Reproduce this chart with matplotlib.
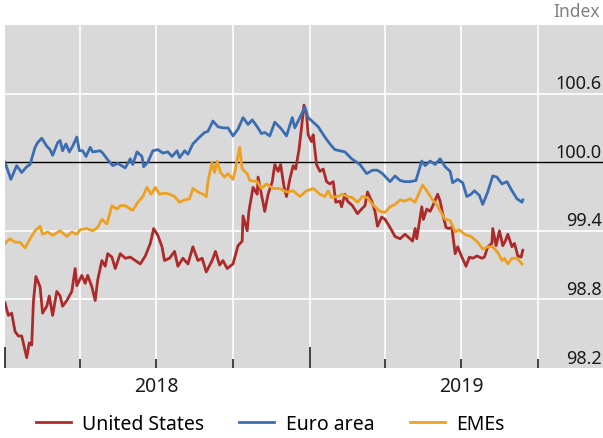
import matplotlib
matplotlib.use("Agg")
import matplotlib.pyplot as plt
import matplotlib.dates as mdates
import pandas as pd

plt.rcParams['font.family'] = ['Noto Sans', 'DejaVu Sans']

start = pd.Timestamp('2018-01-01')

# days since 1 Jan 2018, index values
us_days = [0, 4, 8, 12, 16, 20, 26, 29, 32, 34, 37, 42, 45, 50, 53, 57, 62, 66, 69, 74,
           80, 84, 86, 92, 96, 99, 104, 108, 111, 116, 120, 123, 128, 132, 138, 144, 150,
           156, 162, 168, 174, 178, 183, 188, 191, 197, 203, 207, 213, 219, 225, 231, 236,
           241, 248, 252, 257, 261, 266, 273, 279, 284, 285, 290, 292, 297, 302, 303, 307,
           311, 315, 320, 323, 327, 330, 334, 337, 341, 345, 348, 352, 355, 358, 361, 363,
           367, 369, 373, 377, 381, 385, 389, 393, 396, 401, 403, 407, 410, 416, 422, 427,
           431, 434, 439, 443, 446, 451, 455, 461, 467, 473, 479, 482, 488, 491, 493, 499,
           501, 505, 509, 513, 518, 521, 524, 528, 531, 535, 539, 542, 547, 552, 556, 560,
           565, 571, 574, 578, 583, 584, 588, 592, 596, 599, 602, 607, 610, 614, 618, 620]
us_vals = [98.77, 98.66, 98.68, 98.52, 98.48, 98.48, 98.29, 98.42, 98.40, 98.78, 99.00, 98.91,
           98.68, 98.74, 98.83, 98.66, 98.87, 98.83, 98.74, 98.79, 98.87, 99.07, 98.92, 99.01,
           98.94, 99.01, 98.91, 98.79, 98.97, 99.14, 99.09, 99.20, 99.17, 99.07, 99.20, 99.16,
           99.17, 99.14, 99.11, 99.18, 99.29, 99.42, 99.36, 99.26, 99.14, 99.16, 99.22, 99.09,
           99.16, 99.11, 99.26, 99.14, 99.16, 99.04, 99.14, 99.22, 99.10, 99.14, 99.07, 99.11,
           99.27, 99.31, 99.53, 99.40, 99.57, 99.78, 99.72, 99.87, 99.72, 99.57, 99.72, 99.83,
           99.98, 99.92, 99.98, 99.79, 99.70, 99.85, 99.97, 99.94, 100.11, 100.30, 100.50,
           100.42, 100.24, 100.18, 100.24, 99.98, 99.92, 99.94, 99.83, 99.81, 99.83, 99.65,
           99.66, 99.61, 99.72, 99.66, 99.62, 99.55, 99.59, 99.62, 99.74, 99.66, 99.57, 99.44,
           99.52, 99.50, 99.43, 99.35, 99.33, 99.37, 99.35, 99.31, 99.42, 99.33, 99.61, 99.50,
           99.59, 99.57, 99.63, 99.72, 99.66, 99.55, 99.43, 99.42, 99.43, 99.20, 99.26, 99.17,
           99.09, 99.17, 99.16, 99.18, 99.16, 99.17, 99.26, 99.29, 99.42, 99.27, 99.40, 99.27,
           99.31, 99.37, 99.26, 99.29, 99.18, 99.17, 99.23]

ea_days = [0, 7, 14, 20, 26, 30, 36, 39, 44, 50, 54, 57, 63, 66, 69, 73, 77, 81, 86, 89, 93,
           97, 102, 105, 114, 117, 122, 129, 135, 144, 150, 153, 158, 164, 166, 171, 177, 183,
           189, 195, 200, 206, 209, 215, 219, 225, 233, 239, 243, 249, 255, 261, 267, 273, 279,
           285, 291, 296, 302, 307, 311, 317, 323, 331, 337, 344, 347, 355, 359, 363, 369, 375,
           383, 389, 395, 401, 407, 415, 425, 433, 440, 446, 452, 461, 467, 473, 479, 485, 492,
           499, 503, 509, 515, 521, 527, 533, 536, 542, 548, 553, 558, 562, 568, 572, 578, 584,
           589, 595, 601, 607, 613, 619, 620]
ea_vals = [100.00, 99.85, 99.97, 99.91, 99.96, 99.98, 100.13, 100.17, 100.21, 100.14, 100.11,
           100.06, 100.17, 100.19, 100.10, 100.16, 100.09, 100.14, 100.22, 100.10, 100.10,
           100.05, 100.13, 100.09, 100.10, 100.08, 100.03, 99.97, 99.99, 99.95, 100.03, 99.98,
           100.09, 100.05, 99.96, 100.00, 100.10, 100.11, 100.08, 100.09, 100.05, 100.10,
           100.04, 100.10, 100.07, 100.16, 100.22, 100.26, 100.27, 100.36, 100.31, 100.30,
           100.30, 100.23, 100.29, 100.39, 100.33, 100.37, 100.31, 100.25, 100.26, 100.23,
           100.35, 100.29, 100.23, 100.39, 100.30, 100.42, 100.48, 100.39, 100.35, 100.31,
           100.22, 100.16, 100.11, 100.10, 100.09, 100.03, 99.98, 99.90, 99.93, 99.93, 99.90,
           99.83, 99.88, 99.84, 99.83, 99.83, 99.84, 100.01, 99.97, 100.01, 99.98, 100.03,
           99.96, 99.92, 99.82, 99.85, 99.82, 99.70, 99.72, 99.75, 99.71, 99.63, 99.74, 99.88,
           99.87, 99.81, 99.83, 99.75, 99.68, 99.65, 99.67]

em_days = [0, 6, 12, 18, 24, 30, 36, 42, 45, 51, 57, 66, 74, 80, 86, 90, 98, 105, 111, 116,
           122, 128, 134, 138, 144, 150, 153, 159, 165, 170, 175, 180, 185, 191, 197, 203, 209,
           215, 221, 225, 231, 237, 241, 243, 248, 251, 254, 258, 263, 267, 273, 275, 281, 284,
           290, 293, 302, 307, 313, 321, 329, 337, 345, 353, 361, 369, 377, 383, 387, 391, 398,
           404, 410, 416, 422, 428, 434, 440, 449, 455, 461, 467, 473, 479, 485, 491, 497, 500,
           505, 511, 517, 523, 527, 533, 539, 544, 550, 558, 566, 572, 578, 584, 590, 595, 598,
           602, 607, 613, 619]
em_vals = [99.29, 99.33, 99.30, 99.30, 99.25, 99.33, 99.40, 99.44, 99.37, 99.39, 99.36, 99.40,
           99.35, 99.39, 99.37, 99.41, 99.42, 99.40, 99.43, 99.50, 99.46, 99.62, 99.59, 99.62,
           99.62, 99.59, 99.58, 99.65, 99.70, 99.78, 99.72, 99.78, 99.72, 99.73, 99.72, 99.70,
           99.65, 99.67, 99.68, 99.77, 99.74, 99.72, 99.70, 99.83, 100.00, 99.91, 100.01,
           99.91, 99.87, 99.90, 99.85, 99.91, 100.13, 99.94, 99.90, 99.84, 99.83, 99.77, 99.81,
           99.77, 99.77, 99.74, 99.75, 99.70, 99.75, 99.77, 99.72, 99.70, 99.75, 99.69, 99.70,
           99.72, 99.70, 99.69, 99.65, 99.70, 99.69, 99.63, 99.57, 99.56, 99.61, 99.63, 99.67,
           99.66, 99.68, 99.65, 99.75, 99.80, 99.75, 99.68, 99.63, 99.55, 99.50, 99.49, 99.39,
           99.41, 99.37, 99.35, 99.30, 99.24, 99.26, 99.26, 99.21, 99.14, 99.16, 99.11, 99.16,
           99.16, 99.11]

series = [("United States", us_days, us_vals, "#ad2a2a"),
          ("Euro area", ea_days, ea_vals, "#3b6db3"),
          ("EMEs", em_days, em_vals, "#eea021")]

y_labels = [98.2, 98.8, 99.4, 100.0, 100.6]

fig = plt.figure(figsize=(6.03, 4.39), dpi=100)
ax = fig.add_axes([5 / 603, 70 / 439, 598 / 603, 343 / 439])
ax.set_facecolor("#d9d9d9")

for name, days, vals, col in series:
    dates = start + pd.to_timedelta(days, unit="D")
    ax.plot(dates, vals, color=col, lw=2.0, label=name, zorder=3)

ax.axhline(100.0, color="black", lw=1.0, zorder=2)

ax.set_ylim(98.2, 101.2)
ax.set_xlim(start, start + pd.Timedelta(days=716))

for y in [98.8, 99.4, 100.6]:
    ax.axhline(y, color="white", lw=1.2, zorder=1)
quarters = pd.date_range("2018-04-01", "2019-10-01", freq="QS")
for q in quarters:
    ax.axvline(q, color="white", lw=1.2, zorder=1)

for s in ax.spines.values():
    s.set_visible(False)

ax.set_yticks([])
ax.xaxis.set_major_locator(mdates.YearLocator())
ax.xaxis.set_minor_locator(mdates.MonthLocator(bymonth=[4, 7, 10]))
ax.xaxis.set_major_formatter(plt.NullFormatter())
ax.tick_params(axis="x", which="major", direction="in", length=15, width=1.3, color="#333333")
ax.tick_params(axis="x", which="minor", direction="in", length=6.5, width=1.3, color="#333333")

ytrans = ax.get_yaxis_transform()
for v in y_labels:
    ax.text(0.998, v + 0.012, f"{v:.1f}", transform=ytrans, ha="right", va="bottom",
            fontsize=13, color="#1a1a1a", zorder=4)

xtrans = ax.get_xaxis_transform()
for yr in [2018, 2019]:
    ax.text(pd.Timestamp(f"{yr}-07-01"), -0.053, str(yr), transform=xtrans,
            ha="center", va="center", fontsize=14, color="#1a1a1a")

fig.text(0.995, 0.972, "Index", ha="right", va="center", fontsize=12.5, color="#808080")

fig.legend(loc="center", bbox_to_anchor=(0.448, 0.032), ncol=3, frameon=False,
           fontsize=14, handlelength=1.8, handletextpad=0.6, columnspacing=1.8)

fig.savefig("out.png", dpi=100)
